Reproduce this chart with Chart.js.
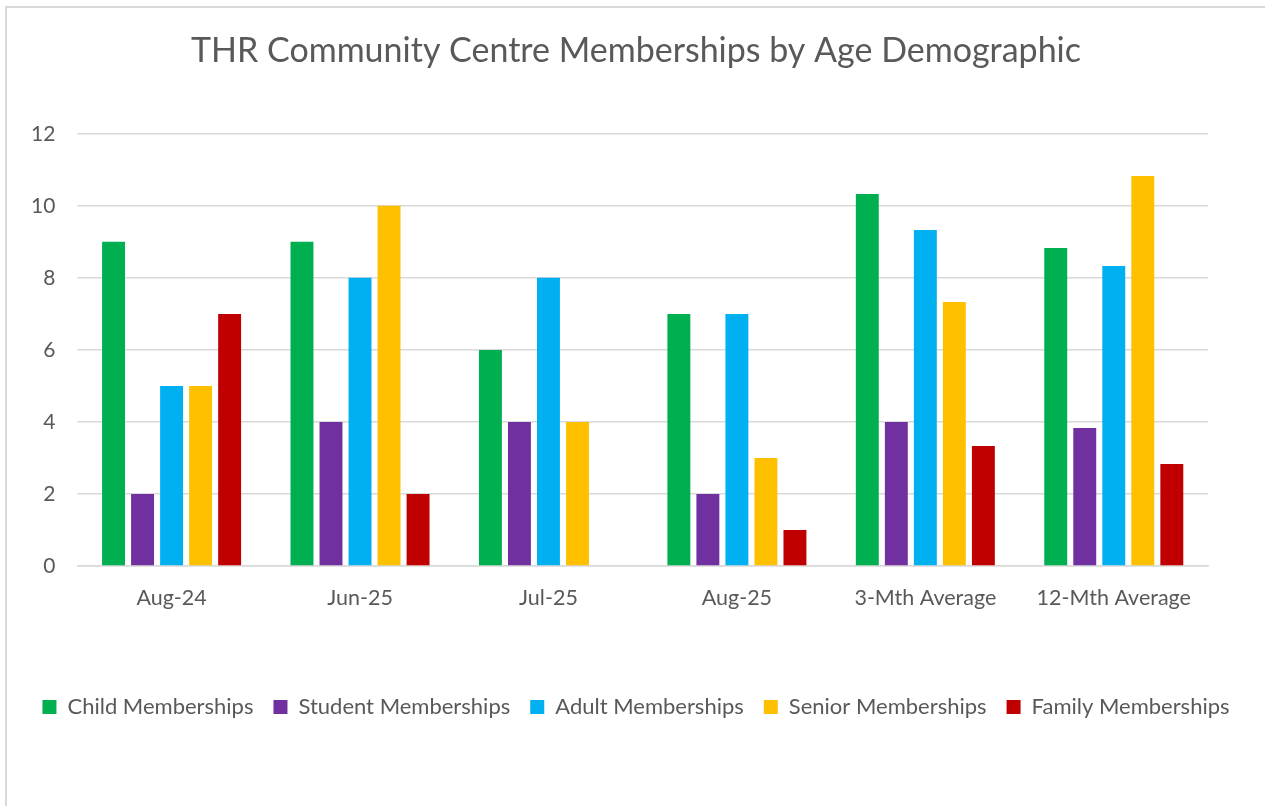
<!DOCTYPE html>
<html>
<head>
<meta charset="utf-8">
<script src="https://cdn.jsdelivr.net/npm/chart.js@4.4.1/dist/chart.umd.min.js"></script>
<style>
  body { margin: 0; background: #fff; overflow: hidden; }
  #frame { position: absolute; left: 5px; top: 6px; width: 1400px; height: 1000px; border: 2px solid #d9d9d9; }
  #chart { position: absolute; left: 0; top: 0; }
</style>
</head>
<body>
<div id="frame"></div>
<canvas id="chart" width="1265" height="806"></canvas>
<script>
const categories = ['Aug-24', 'Jun-25', 'Jul-25', 'Aug-25', '3-Mth Average', '12-Mth Average'];
const child   = [9, 9, 6, 7, 10.33, 8.83];
const student = [2, 4, 4, 2, 4, 3.83];
const adult   = [5, 8, 8, 7, 9.33, 8.33];
const senior  = [5, 10, 4, 3, 7.33, 10.83];
const family  = [7, 2, 0, 1, 3.33, 2.83];
const yTicks  = [0, 2, 4, 6, 8, 10, 12];

const FONT = 'Lato, "Open Sans", sans-serif';
const TEXT = '#595959';

new Chart(document.getElementById('chart'), {
  type: 'bar',
  data: {
    labels: categories,
    datasets: [
      { label: 'Child Memberships',   data: child,   backgroundColor: '#00B050' },
      { label: 'Student Memberships', data: student, backgroundColor: '#7030A0' },
      { label: 'Adult Memberships',   data: adult,   backgroundColor: '#00B0F0' },
      { label: 'Senior Memberships',  data: senior,  backgroundColor: '#FFC000' },
      { label: 'Family Memberships',  data: family,  backgroundColor: '#C00000' }
    ]
  },
  options: {
    responsive: false,
    animation: false,
    categoryPercentage: 0.77,
    barPercentage: 0.79,
    layout: { padding: { left: 9, right: 2, top: 0, bottom: 78 } },
    plugins: {
      title: {
        display: true,
        text: 'THR Community Centre Memberships by Age Demographic',
        color: TEXT,
        font: { family: FONT, size: 34, weight: 'normal' },
        padding: { top: 31, bottom: 62 }
      },
      legend: {
        position: 'bottom',
        labels: {
          color: TEXT,
          font: { family: FONT, size: 22 },
          boxWidth: 14,
          boxHeight: 14,
          padding: 20
        }
      },
      tooltip: { enabled: false }
    },
    scales: {
      x: {
        grid: { display: false, drawTicks: false },
        border: { display: true, color: '#d9d9d9', width: 1.5 },
        ticks: { color: TEXT, font: { family: FONT, size: 21.5 }, padding: 19, maxRotation: 0 },
        // leave room between the category labels and the legend
        afterFit: scale => { scale.height = 110; }
      },
      y: {
        min: 0,
        max: 12,
        afterBuildTicks: axis => { axis.ticks = yTicks.map(v => ({ value: v })); },
        grid: { color: '#d9d9d9', lineWidth: 1.5, drawTicks: false },
        border: { display: false },
        ticks: { color: TEXT, font: { family: FONT, size: 21 }, padding: 22 }
      },
      // empty right axis, only to keep the plot off the right edge
      yRight: {
        position: 'right',
        display: true,
        grid: { display: false, drawTicks: false },
        border: { display: false },
        ticks: { display: false },
        afterFit: scale => { scale.width = 55; }
      }
    }
  }
});
</script>
</body>
</html>
